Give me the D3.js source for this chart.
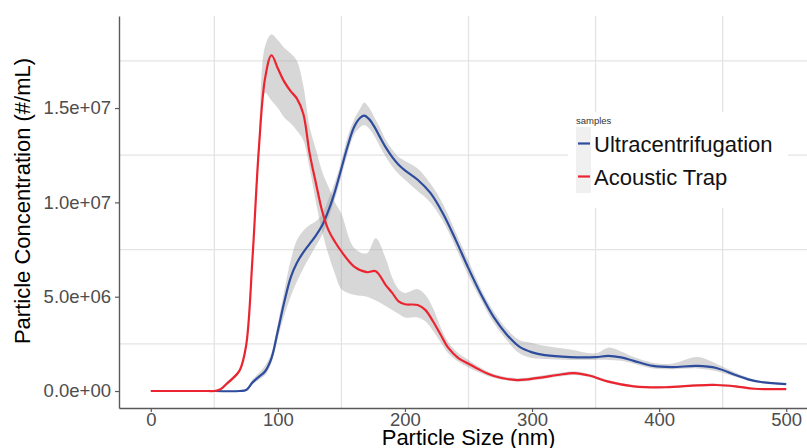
<!DOCTYPE html>
<html>
<head>
<meta charset="utf-8">
<script src="https://cdn.jsdelivr.net/npm/d3@7"></script>
<style>
	body { margin: 0; background: #fff; }
	text { font-family: "Liberation Sans", Arial, sans-serif; }
</style>
</head>
<body>
<div id="chart"></div>
<script>
// particle size (nm) and concentration (millions of particles / mL)
var ucSize = [50, 70, 75, 80, 85, 90, 95, 100, 105, 110,
	115, 120, 125, 130, 135, 140, 145, 150, 155, 160,
	165, 168, 172, 176, 180, 185, 190, 195, 200, 210,
	220, 230, 240, 250, 260, 270, 280, 290, 300, 310,
	330, 350, 360, 370, 380, 395, 410, 430, 445, 460,
	470, 480, 500];
var ucMean = [0, 0, 0.05, 0.45, 0.75, 1.05, 1.75, 3.2, 4.7, 6.0,
	6.8, 7.35, 7.8, 8.25, 8.8, 9.6, 10.6, 11.8, 13.0, 14.0,
	14.5, 14.6, 14.4, 14.0, 13.5, 12.9, 12.4, 12.0, 11.7, 11.2,
	10.5, 9.4, 8.0, 6.5, 5.1, 3.9, 3.0, 2.35, 2.05, 1.9,
	1.8, 1.8, 1.86, 1.78, 1.6, 1.33, 1.27, 1.33, 1.22, 0.85,
	0.62, 0.48, 0.37];
var ucHigh = [0.03, 0.03, 0.08, 0.6, 0.95, 1.35, 2.0, 3.6, 5.3, 6.9,
	8.0, 8.5, 8.8, 9.0, 9.4, 10.2, 11.1, 12.2, 13.5, 14.4,
	15.0, 15.3, 15.0, 14.5, 14.0, 13.3, 12.8, 12.4, 12.2, 11.8,
	11.0, 9.9, 8.4, 6.9, 5.4, 4.2, 3.3, 2.7, 2.55, 2.4,
	2.2, 2.0, 2.3, 2.1, 1.8, 1.5, 1.45, 1.8, 1.45, 0.98,
	0.72, 0.54, 0.42];
var ucLow = [-0.03, -0.03, 0.02, 0.35, 0.6, 0.85, 1.5, 2.8, 4.0, 5.0,
	5.8, 6.5, 7.1, 7.7, 8.3, 9.2, 10.2, 11.4, 12.6, 13.6,
	14.0, 14.1, 13.9, 13.5, 13.0, 12.4, 11.9, 11.5, 11.2, 10.6,
	10.0, 9.0, 7.6, 6.1, 4.8, 3.6, 2.7, 2.0, 1.75, 1.7,
	1.65, 1.65, 1.65, 1.6, 1.45, 1.2, 1.15, 1.2, 1.05, 0.75,
	0.55, 0.42, 0.33];

var atSize = [0, 45, 50, 55, 60, 65, 70, 75, 80, 85, 90,
	95, 100, 105, 110, 115, 120, 125, 130, 135, 140,
	145, 150, 160, 170, 177, 185, 190, 195, 200, 210,
	216, 222, 228, 234, 242, 250, 258, 270, 288, 305,
	320, 333, 345, 360, 380, 405, 430, 445, 460, 475,
	500];
var atMean = [0, 0, 0, 0.1, 0.4, 0.7, 1.1, 2.4, 7.0, 12.8, 16.6,
	17.8, 17.1, 16.4, 15.9, 15.5, 14.7, 12.6, 11.0, 9.5, 8.5,
	7.9, 7.4, 6.6, 6.3, 6.35, 5.6, 5.2, 4.75, 4.6, 4.56,
	4.3, 3.7, 3.0, 2.3, 1.75, 1.45, 1.15, 0.8, 0.58, 0.7,
	0.85, 0.95, 0.82, 0.5, 0.25, 0.2, 0.3, 0.32, 0.25, 0.12,
	0.1];
var atHigh = [0.03, 0.03, 0.03, 0.15, 0.5, 0.8, 1.2, 2.5, 7.2, 13.4, 18.3,
	18.9, 18.6, 18.2, 17.9, 17.5, 16.2, 14.0, 12.8, 11.6, 10.8,
	10.0, 9.4, 7.6, 7.3, 8.1, 7.0, 6.0, 5.4, 5.2, 5.4,
	5.1, 4.4, 3.4, 2.6, 2.0, 1.65, 1.3, 0.9, 0.68, 0.8,
	0.95, 1.05, 0.9, 0.58, 0.3, 0.26, 0.36, 0.38, 0.3, 0.16,
	0.13];
var atLow = [-0.03, -0.03, -0.03, 0.05, 0.3, 0.6, 1.0, 2.3, 6.8, 12.2, 15.8,
	15.4, 15.0, 14.5, 14.2, 13.8, 13.3, 11.8, 10.0, 8.4, 7.2,
	6.2, 5.4, 5.1, 5.0, 4.8, 4.5, 4.3, 4.1, 3.9, 3.9,
	3.7, 3.2, 2.6, 2.0, 1.55, 1.25, 1.0, 0.7, 0.5, 0.6,
	0.75, 0.85, 0.74, 0.42, 0.2, 0.15, 0.25, 0.27, 0.2, 0.08,
	0.07];

var seriesNames = ["Ultracentrifugation", "Acoustic Trap"];
var seriesColors = ["#2D4C9E", "#EC2430"];
var xTicks = [0, 100, 200, 300, 400, 500];
var xGrid = [50, 150, 250, 350, 450];
var yTicks = [0, 5e6, 1e7, 1.5e7];
var yGrid = [2.5e6, 7.5e6, 1.25e7, 1.75e7];

function toPoints (size, mean, low, high) {
	return size.map(function (s, i) {
		return { x: s, y: mean[i] * 1e6, lo: low[i] * 1e6, hi: high[i] * 1e6 };
	});
}

var series = [
	toPoints(ucSize, ucMean, ucLow, ucHigh),
	toPoints(atSize, atMean, atLow, atHigh)
];

var width = 807;
var height = 448;
var panelLeft = 119, panelRight = 818, panelTop = 16, panelBottom = 408;

var svg = d3.select("#chart")
	.append("svg")
	.attr("width", width)
	.attr("height", height);

var x = d3.scaleLinear().domain([-25, 525]).range([panelLeft, panelRight]);
var y = d3.scaleLinear().domain([-0.9e6, 19.88e6]).range([panelBottom, panelTop]);

// grid (only the minor lines show)
svg.append("g").selectAll("line")
	.data(xGrid)
	.enter().append("line")
	.attr("x1", function (d) { return x(d); })
	.attr("x2", function (d) { return x(d); })
	.attr("y1", panelTop).attr("y2", panelBottom)
	.attr("stroke", "#e4e4e4").attr("stroke-width", 1.3);

svg.append("g").selectAll("line")
	.data(yGrid)
	.enter().append("line")
	.attr("y1", function (d) { return y(d); })
	.attr("y2", function (d) { return y(d); })
	.attr("x1", panelLeft).attr("x2", panelRight)
	.attr("stroke", "#e4e4e4").attr("stroke-width", 1.3);

var smooth = d3.curveCatmullRom.alpha(0.5);

var area = d3.area()
	.curve(smooth)
	.x(function (d) { return x(d.x); })
	.y0(function (d) { return y(d.lo); })
	.y1(function (d) { return y(d.hi); });

var line = d3.line()
	.curve(smooth)
	.x(function (d) { return x(d.x); })
	.y(function (d) { return y(d.y); });

svg.append("g").selectAll("path")
	.data(series)
	.enter().append("path")
	.attr("d", area)
	.attr("fill", "#9a9a9a")
	.attr("fill-opacity", 0.4);

svg.append("g").selectAll("path")
	.data(series)
	.enter().append("path")
	.attr("d", line)
	.attr("fill", "none")
	.attr("stroke", function (d, i) { return seriesColors[i]; })
	.attr("stroke-width", 2.2);

// axes
function sci (d) {
	return d3.format(".1e")(d).replace(/e([+-])(\d)$/, "e$10$2");
}

var xAxis = svg.append("g")
	.attr("transform", "translate(0," + panelBottom + ")")
	.call(d3.axisBottom(x).tickValues(xTicks).tickSize(4).tickSizeOuter(0).tickPadding(1));

var yAxis = svg.append("g")
	.attr("transform", "translate(" + panelLeft + ",0)")
	.call(d3.axisLeft(y).tickValues(yTicks).tickFormat(sci).tickSize(4).tickSizeOuter(0).tickPadding(4));

[xAxis, yAxis].forEach(function (a) {
	a.select(".domain").attr("stroke", "#5a5a5a").attr("stroke-width", 1.4);
	a.selectAll(".tick line").attr("stroke", "#5a5a5a").attr("stroke-width", 1.2);
	a.selectAll(".tick text")
		.attr("fill", "#4d4d4d")
		.style("font-size", "18.5px")
		.style("font-family", "'Liberation Sans', Arial, sans-serif");
});

svg.append("text")
	.attr("x", (panelLeft + panelRight) / 2)
	.attr("y", 445)
	.attr("text-anchor", "middle")
	.style("font-size", "22px")
	.text("Particle Size (nm)");

svg.append("text")
	.attr("transform", "translate(29.5,201) rotate(-90)")
	.attr("text-anchor", "middle")
	.style("font-size", "22px")
	.text("Particle Concentration (#/mL)");

// legend
var legend = svg.append("g").attr("transform", "translate(568,112)");

legend.append("rect")
	.attr("width", 220).attr("height", 96)
	.attr("fill", "#fff");

legend.append("text")
	.attr("x", 8).attr("y", 12)
	.style("font-size", "9.5px")
	.attr("fill", "#333")
	.text("samples");

var rows = legend.selectAll(".row")
	.data(seriesNames)
	.enter().append("g")
	.attr("class", "row")
	.attr("transform", function (d, i) { return "translate(8," + (15 + i * 33) + ")"; });

rows.append("rect")
	.attr("width", 15).attr("height", 33)
	.attr("fill", "#f0f0f0");

rows.append("line")
	.attr("x1", 2).attr("x2", 14)
	.attr("y1", 16.5).attr("y2", 16.5)
	.attr("stroke", function (d, i) { return seriesColors[i]; })
	.attr("stroke-width", 2.2);

rows.append("text")
	.attr("x", 18).attr("y", 24.5)
	.style("font-size", "22px")
	.attr("fill", "#111")
	.text(function (d) { return d; });
</script>
</body>
</html>
